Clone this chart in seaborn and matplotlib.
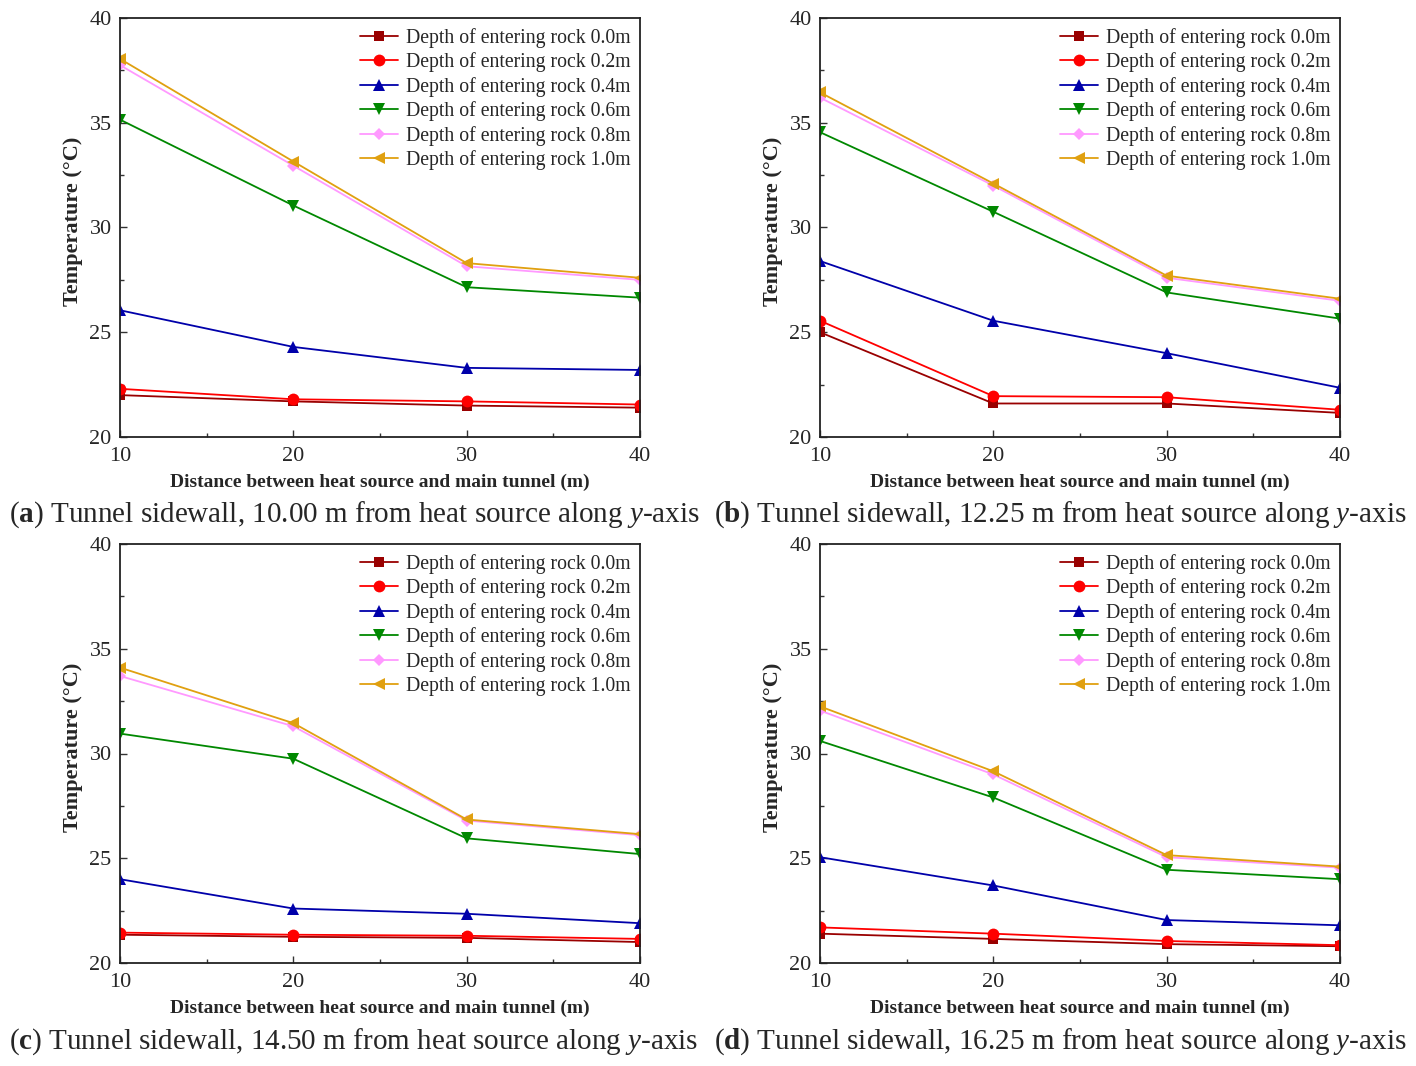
import matplotlib
matplotlib.use("Agg")
import matplotlib.pyplot as plt
import seaborn as sns
from matplotlib.ticker import MultipleLocator

distance = [10, 20, 30, 40]
depths = ["0.0m", "0.2m", "0.4m", "0.6m", "0.8m", "1.0m"]

# temperature per depth (rows) at each distance
panel_a = [
    [22.0, 21.7, 21.5, 21.4],
    [22.3, 21.8, 21.7, 21.55],
    [26.05, 24.3, 23.3, 23.2],
    [35.15, 31.05, 27.15, 26.65],
    [37.75, 32.95, 28.15, 27.5],
    [38.05, 33.15, 28.3, 27.6],
]
panel_b = [
    [25.0, 21.6, 21.6, 21.15],
    [25.55, 21.95, 21.9, 21.3],
    [28.4, 25.55, 24.0, 22.35],
    [34.55, 30.75, 26.9, 25.65],
    [36.2, 32.0, 27.6, 26.5],
    [36.45, 32.1, 27.7, 26.6],
]
panel_c = [
    [21.35, 21.25, 21.2, 21.0],
    [21.45, 21.35, 21.3, 21.15],
    [24.0, 22.6, 22.35, 21.9],
    [30.95, 29.75, 25.95, 25.2],
    [33.7, 31.3, 26.8, 26.1],
    [34.1, 31.45, 26.85, 26.15],
]
panel_d = [
    [21.4, 21.15, 20.9, 20.8],
    [21.7, 21.4, 21.05, 20.85],
    [25.05, 23.7, 22.05, 21.8],
    [30.6, 27.9, 24.45, 24.0],
    [32.05, 29.0, 25.05, 24.55],
    [32.25, 29.15, 25.15, 24.6],
]
captions = [
    ("a", "10.00"),
    ("b", "12.25"),
    ("c", "14.50"),
    ("d", "16.25"),
]

colors = ["#990000", "#ff0000", "#0000aa", "#008800", "#ff99ff", "#e0a010"]
markers = ["s", "o", "^", "v", "D", "<"]
msizes = [7, 8.5, 8.5, 8.5, 6.5, 8.5]

sns.set_style("ticks")
plt.rcParams["font.family"] = ["Liberation Serif", "DejaVu Serif"]
plt.rcParams["mathtext.fontset"] = "custom"
plt.rcParams["mathtext.rm"] = "Liberation Serif"
plt.rcParams["mathtext.it"] = "Liberation Serif:italic"
plt.rcParams["mathtext.bf"] = "Liberation Serif:bold"
plt.rcParams["xtick.direction"] = "in"
plt.rcParams["ytick.direction"] = "in"

fig = plt.figure(figsize=(14.16, 10.66), dpi=100)

lefts = [120, 820, 120, 820]
tops = [18, 18, 544, 544]
W, H = 1416, 1066
panels = [panel_a, panel_b, panel_c, panel_d]
cap_x = [354, 1060, 354, 1060]
cap_y = [515, 515, 1042, 1042]

for i, values in enumerate(panels):
    l, t = lefts[i], tops[i]
    ax = fig.add_axes([l / W, 1 - (t + 419) / H, 520 / W, 419 / H])
    for j, row in enumerate(values):
        sns.lineplot(x=distance, y=row, ax=ax, color=colors[j],
                     marker=markers[j], markersize=msizes[j],
                     markeredgewidth=0, linewidth=1.3,
                     label=f"Depth of entering rock {depths[j]}")
    ax.set_xlim(10, 40)
    ax.set_ylim(20, 40)
    ax.xaxis.set_major_locator(MultipleLocator(10))
    ax.xaxis.set_minor_locator(MultipleLocator(5))
    ax.yaxis.set_major_locator(MultipleLocator(5))
    ax.yaxis.set_minor_locator(MultipleLocator(2.5))
    ax.tick_params(which="major", length=5, width=1, labelsize=16,
                   color="#333333")
    ax.tick_params(axis="x", which="major", pad=7)
    ax.tick_params(axis="y", which="major", pad=6)
    ax.tick_params(which="minor", length=3, width=1, color="#333333")
    for s in ax.spines.values():
        s.set_linewidth(1.3)
        s.set_color("#222222")
    ax.set_xlabel("Distance between heat source and main tunnel (m)",
                  fontsize=14, fontweight="bold", labelpad=6)
    ax.set_ylabel("Temperature (°C)", fontsize=16, fontweight="bold",
                  labelpad=6)
    ax.yaxis.set_label_coords(-0.072, 0.515)
    ax.legend(loc="upper right", frameon=False, fontsize=14.2,
              handlelength=1.9, handletextpad=0.4, labelspacing=0.23,
              borderaxespad=0.1)
    letter, dist = captions[i]
    fig.text(cap_x[i] / W, 1 - cap_y[i] / H,
             rf"($\mathbf{{{letter}}}$) Tunnel sidewall, {dist} m from heat source along $\it{{y}}$-axis",
             ha="center", va="center", fontsize=21)

fig.savefig("out.png", dpi=100)
